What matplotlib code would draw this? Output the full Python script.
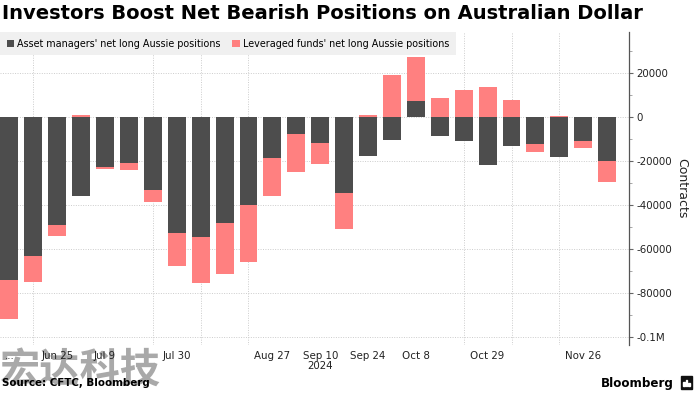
# IMPORT LIBRARY
import matplotlib
matplotlib.use("Agg")
import matplotlib.pyplot as plt
from matplotlib.patches import Rectangle
import numpy as np

# DATA (weekly CFTC reports, Jun 11 - Dec 3 2024)
dates = ["Jun 11", "Jun 18", "Jun 25", "Jul 2", "Jul 9", "Jul 16", "Jul 23",
         "Jul 30", "Aug 6", "Aug 13", "Aug 20", "Aug 27", "Sep 3", "Sep 10",
         "Sep 17", "Sep 24", "Oct 1", "Oct 8", "Oct 15", "Oct 22", "Oct 29",
         "Nov 5", "Nov 12", "Nov 19", "Nov 26", "Dec 3"]
asset_managers = [-74000, -63000, -49200, -36100, -22700, -20800, -33100,
                  -52800, -54300, -48000, -40200, -18800, -8000, -11700,
                  -34700, -18000, -10500, 7100, -8900, -11100, -21700,
                  -13200, -12300, -18200, -11100, -19900]
leveraged_funds = [-17900, -11700, -4800, 600, -1200, -3400, -5600,
                   -14900, -20900, -23300, -25500, -17300, -17000, -9500,
                   -16100, 1000, 19000, 20000, 8600, 12000, 13400,
                   7800, -3900, 300, -2900, -9600]
labelled = {"Jun 11": "...", "Jun 25": "Jun 25", "Jul 9": "Jul 9",
            "Jul 30": "Jul 30", "Aug 27": "Aug 27", "Sep 10": "Sep 10\n2024",
            "Sep 24": "Sep 24", "Oct 8": "Oct 8", "Oct 29": "Oct 29",
            "Nov 26": "Nov 26"}
grid_dates = ["Jun 11", "Jun 18", "Jun 25", "Jul 9", "Jul 23", "Jul 30",
              "Aug 6", "Aug 20", "Aug 27", "Sep 10", "Sep 24", "Oct 8",
              "Oct 22", "Oct 29", "Nov 5", "Nov 19", "Nov 26"]

DARK = "#4d4d4d"
PINK = "#ff8080"


def execute():
    x = np.arange(len(dates))
    am = np.array(asset_managers)
    lf = np.array(leveraged_funds)
    # stack pink on the side it points to
    lf_bottom = np.where(lf < 0, np.minimum(am, 0), np.maximum(am, 0))

    fig = plt.figure(figsize=(6.96, 3.93), dpi=100)
    ax = fig.add_axes([0.0, 0.122, 0.904, 0.797])
    ax.patch.set_alpha(0)

    ax.bar(x, am, width=0.75, color=DARK, zorder=2,
           label="Asset managers' net long Aussie positions")
    ax.bar(x, lf, width=0.75, bottom=lf_bottom, color=PINK, zorder=2,
           label="Leveraged funds' net long Aussie positions")

    ax.set_xlim(-0.39, 25.92)
    ax.set_ylim(-103500, 38500)

    # y axis on the right
    ax.yaxis.tick_right()
    ax.set_yticks([20000, 0, -20000, -40000, -60000, -80000, -100000])
    ax.set_yticklabels(["20000", "0", "-20000", "-40000", "-60000",
                        "-80000", "-0.1M"], fontsize=7.4, color="#222222")
    ax.set_yticks(np.arange(-100000, 38000, 10000), minor=True)
    ax.tick_params(axis="y", which="major", length=3, width=0.8,
                   color="#666666", pad=2)
    ax.tick_params(axis="y", which="minor", length=2, width=0.6,
                   color="#999999")
    ax.yaxis.set_label_position("right")
    ax.set_ylabel("Contracts", fontsize=9, rotation=270, labelpad=12,
                  color="#222222")

    # x axis
    grid_idx = [dates.index(d) for d in grid_dates]
    ax.set_xticks(grid_idx, minor=True)
    lab_idx = [dates.index(d) for d in labelled]
    ax.set_xticks(lab_idx)
    ax.set_xticklabels(list(labelled.values()), fontsize=7.4,
                       color="#222222", linespacing=1.1)
    ax.tick_params(axis="x", which="both", length=0, pad=4)

    ax.grid(axis="y", which="major", linestyle=(0, (1, 1.5)),
            color="#cccccc", linewidth=0.7, zorder=0)
    ax.grid(axis="x", which="minor", linestyle=(0, (1, 1.5)),
            color="#cccccc", linewidth=0.7, zorder=0)
    ax.grid(axis="x", which="major", visible=False)

    for s in ["left", "top", "bottom"]:
        ax.spines[s].set_visible(False)
    ax.spines["right"].set_color("#555555")
    ax.spines["right"].set_linewidth(0.9)

    leg = ax.legend(loc="upper left", ncol=2, fontsize=6.9, frameon=True,
                    fancybox=False, handlelength=0.8, handleheight=0.8,
                    handletextpad=0.3, columnspacing=1.2, borderpad=0.7,
                    borderaxespad=0.0, bbox_to_anchor=(0.0, 1.0))
    leg.get_frame().set_facecolor("#f0f0f0")
    leg.get_frame().set_edgecolor("none")
    leg.get_frame().set_alpha(1)

    fig.text(0.003, 0.965, "Investors Boost Net Bearish Positions on Australian Dollar",
             fontsize=14.0, fontweight="bold", va="center", ha="left")

    # watermark, drawn underneath the axes and its labels
    fig.text(0.0, 0.005, "宏达科技", fontsize=29, fontweight="bold",
             family=["Noto Sans CJK SC", "DejaVu Sans"], color="#8c8c8c",
             alpha=0.75, va="bottom", ha="left", zorder=-1)
    fig.text(0.003, 0.025, "Source: CFTC, Bloomberg", fontsize=7.4,
             fontweight="bold", va="center", ha="left")
    fig.text(0.968, 0.025, "Bloomberg", fontsize=8.6, fontweight="bold",
             va="center", ha="right")

    # small logo box with bars
    fig.patches.append(Rectangle((0.979, 0.010), 0.015, 0.032,
                                 transform=fig.transFigure, color="#111111"))
    for bx, bh in zip([0.982, 0.9855, 0.989], [0.010, 0.016, 0.008]):
        fig.patches.append(Rectangle((bx, 0.018), 0.0022, bh,
                                     transform=fig.transFigure, color="white"))

    fig.savefig("out.png", dpi=100)


# EXECUTE
if __name__ == "__main__":
    execute()
